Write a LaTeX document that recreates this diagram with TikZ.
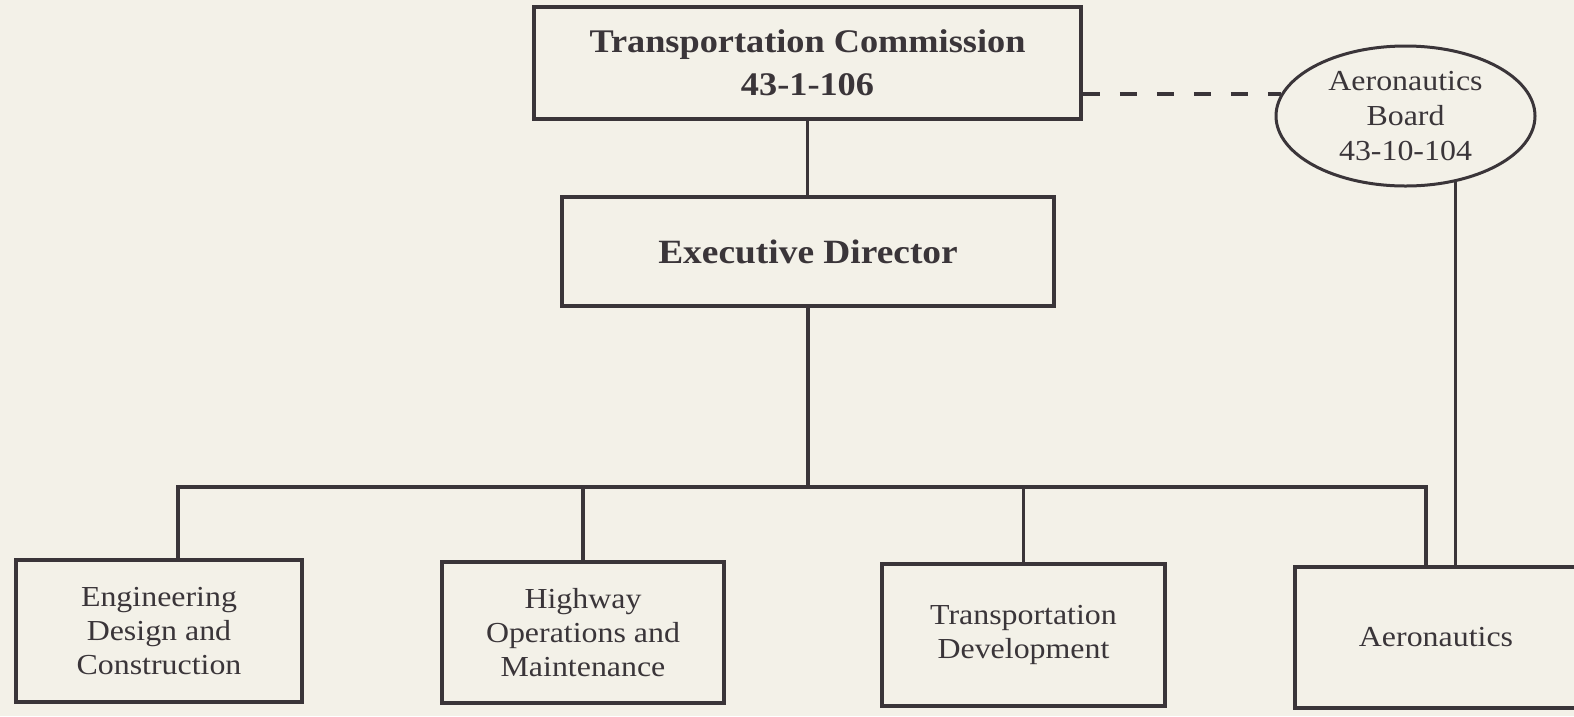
\documentclass[tikz,border=0pt]{standalone}
\usepackage{fontspec}
\setmainfont{Liberation Serif}[FakeStretch=1.1]
\usetikzlibrary{shapes.geometric}
\definecolor{paper}{RGB}{243,241,232}
\definecolor{ink}{RGB}{58,53,57}
\begin{document}
\begin{tikzpicture}[x=1pt,y=-1pt,
  box/.style={draw=ink,line width=3.6pt,rectangle,inner sep=0pt,align=center,text=ink,
    font=\fontsize{29}{34}\selectfont},
  bigbox/.style={box,font=\fontsize{33}{43}\selectfont\bfseries},
  board/.style={ellipse,draw=ink,line width=3pt,inner sep=0pt,align=center,text=ink,
    font=\fontsize{29}{35}\selectfont},
  conn/.style={draw=ink,line width=3.4pt,line join=miter},
  dashline/.style={draw=ink,line width=3.4pt,dash pattern=on 17pt off 20pt}]
\fill[paper] (0,0) rectangle (1574,716);
\useasboundingbox (0,0) rectangle (1574,716);
\clip (0,0) rectangle (1574,716);

\node[bigbox, minimum width=547pt, minimum height=112pt] (tc) at (807.5,63) {Transportation Commission\\43-1-106};
\node[box, minimum width=492pt, minimum height=109pt, font=\fontsize{34}{40}\selectfont\bfseries] (ed) at (808,251.5) {Executive Director};
\node[board, minimum width=259pt, minimum height=140pt] (brd) at (1405.5,116) {Aeronautics\\Board\\43-10-104};

\node[box, minimum width=286pt, minimum height=142pt] (eng) at (159,631) {Engineering\\Design and\\Construction};
\node[box, minimum width=282pt, minimum height=141pt] (hwy) at (583,632.5) {Highway\\Operations and\\Maintenance};
\node[box, minimum width=283pt, minimum height=142pt] (tdev) at (1023.5,635) {Transportation\\Development};
\node[box, minimum width=282pt, minimum height=141pt] (aero) at (1436,637.5) {Aeronautics};

\coordinate (busL) at (178,487);
\coordinate (busR) at (1426,487);

\draw[conn] (tc.south) -- (tc.south |- ed.north);
\draw[conn] (ed.south) -- (ed.south |- busL);
\draw[conn] (busL |- eng.north) -- (busL) -- (busR) -- (busR |- aero.north);
\draw[conn] (hwy.north |- busL) -- (hwy.north);
\draw[conn] (tdev.north |- busL) -- (tdev.north);
\draw[conn] (brd.-53.3) -- (brd.-53.3 |- aero.north);
\draw[dashline] (tc.east |- brd.170.9) -- (brd.170.9);
\end{tikzpicture}
\end{document}
